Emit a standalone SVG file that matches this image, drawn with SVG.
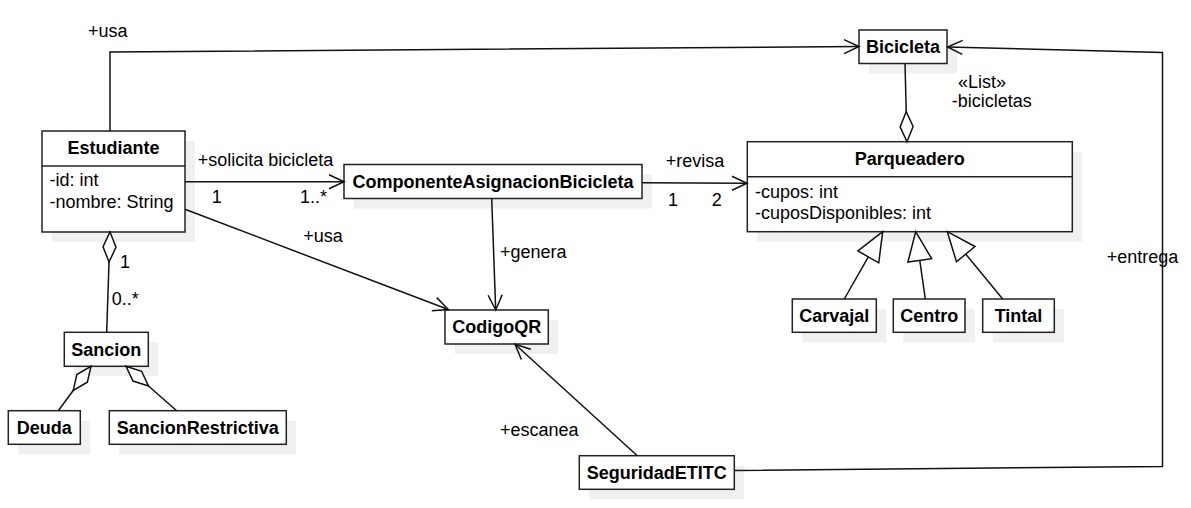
<svg xmlns="http://www.w3.org/2000/svg" width="1191" height="508" viewBox="0 0 1191 508">
<style>
.box{fill:#fff;stroke:#222;stroke-width:1.5}
.sh{fill:#f0f0f0;stroke:none}
.t{font-family:"Liberation Sans",Arial,sans-serif;font-size:18px;fill:#000}
.b{font-weight:bold;text-anchor:middle}
.ln{fill:none;stroke:#111;stroke-width:1.5}
</style>
<defs>
<marker id="open" markerUnits="userSpaceOnUse" markerWidth="40" markerHeight="40" refX="0" refY="0" orient="auto" viewBox="-20 -20 40 40" overflow="visible">
<path d="M-15,-7 L0,0 L-15,7" fill="none" stroke="#111" stroke-width="1.5"/>
</marker>
<marker id="dia" markerUnits="userSpaceOnUse" markerWidth="40" markerHeight="40" refX="0" refY="0" orient="auto" viewBox="-5 -20 40 40" overflow="visible">
<path d="M0,0 L15,-6.5 L30,0 L15,6.5 Z" fill="#fff" stroke="#111" stroke-width="1.5"/>
</marker>
<marker id="tri" markerUnits="userSpaceOnUse" markerWidth="40" markerHeight="40" refX="0" refY="0" orient="auto" viewBox="-35 -20 40 40" overflow="visible">
<path d="M0,0 L-29,-12 L-29,12 Z" fill="#fff" stroke="#111" stroke-width="1.5"/>
</marker>
</defs>

<g id="Estudiante">
<rect class="sh" x="52" y="141" width="143" height="101"/>
<rect class="box" x="42" y="131" width="143" height="101"/>
<line x1="42" y1="166" x2="185" y2="166" stroke="#222" stroke-width="1.5"/>
<text class="t b" x="113.5" y="154">Estudiante</text>
<text class="t" x="49.5" y="186">-id: int</text>
<text class="t" x="49.5" y="207.5">-nombre: String</text>
</g>

<g id="Bicicleta">
<rect class="sh" x="869" y="40" width="88" height="33.5"/>
<rect class="box" x="859" y="30" width="88" height="33.5"/>
<text class="t b" x="903" y="53.3">Bicicleta</text>
</g>

<g id="Parqueadero">
<rect class="sh" x="757.3" y="151.7" width="325" height="90"/>
<rect class="box" x="747.3" y="141.7" width="325" height="90"/>
<line x1="747.3" y1="176.7" x2="1072.3" y2="176.7" stroke="#222" stroke-width="1.5"/>
<text class="t b" x="909.8" y="165">Parqueadero</text>
<text class="t" x="755" y="198.3">-cupos: int</text>
<text class="t" x="755" y="219">-cuposDisponibles: int</text>
</g>

<g id="ComponenteAsignacionBicicleta">
<rect class="sh" x="354" y="174.5" width="298" height="34"/>
<rect class="box" x="344" y="164.5" width="298" height="34"/>
<text class="t b" x="493" y="188">ComponenteAsignacionBicicleta</text>
</g>

<g id="CodigoQR">
<rect class="sh" x="455" y="320" width="103.3" height="34"/>
<rect class="box" x="445" y="310" width="103.3" height="34"/>
<text class="t b" x="496.7" y="333.3">CodigoQR</text>
</g>

<g id="SeguridadETITC">
<rect class="sh" x="589.3" y="465.7" width="155" height="33.6"/>
<rect class="box" x="579.3" y="455.7" width="155" height="33.6"/>
<text class="t b" x="656.8" y="478.5">SeguridadETITC</text>
</g>

<g id="Sancion">
<rect class="sh" x="74.3" y="342.3" width="84" height="34"/>
<rect class="box" x="64.3" y="332.3" width="84" height="34"/>
<text class="t b" x="106.3" y="356">Sancion</text>
</g>

<g id="Deuda">
<rect class="sh" x="18.3" y="420.7" width="72" height="33.6"/>
<rect class="box" x="8.3" y="410.7" width="72" height="33.6"/>
<text class="t b" x="44.3" y="434">Deuda</text>
</g>

<g id="SancionRestrictiva">
<rect class="sh" x="119.3" y="420.7" width="177" height="33.6"/>
<rect class="box" x="109.3" y="410.7" width="177" height="33.6"/>
<text class="t b" x="197.8" y="434">SancionRestrictiva</text>
</g>

<g id="Carvajal">
<rect class="sh" x="802.3" y="309" width="84" height="33.3"/>
<rect class="box" x="792.3" y="299" width="84" height="33.3"/>
<text class="t b" x="834.3" y="322">Carvajal</text>
</g>

<g id="Centro">
<rect class="sh" x="903.3" y="309" width="71.7" height="33.3"/>
<rect class="box" x="893.3" y="299" width="71.7" height="33.3"/>
<text class="t b" x="929.2" y="322">Centro</text>
</g>

<g id="Tintal">
<rect class="sh" x="992.7" y="309" width="71.6" height="33.3"/>
<rect class="box" x="982.7" y="299" width="71.6" height="33.3"/>
<text class="t b" x="1018.5" y="322">Tintal</text>
</g>

<g id="connectors">
<path class="ln" d="M110,131 L110,52 L859,46.5" marker-end="url(#open)"/>
<path class="ln" d="M734.5,470.5 L1162.5,466.5 L1162.5,52.5 L947.5,47" marker-end="url(#open)"/>
<path class="ln" d="M907,141.7 L905,63.5" marker-start="url(#dia)"/>
<path class="ln" d="M185,181.7 L344,181.7" marker-end="url(#open)"/>
<path class="ln" d="M642,182.7 L747,183.3" marker-end="url(#open)"/>
<path class="ln" d="M491.7,198.5 L495.7,310" marker-end="url(#open)"/>
<path class="ln" d="M185,209.3 L448.3,309.5" marker-end="url(#open)"/>
<path class="ln" d="M637.3,455.7 L515,344.3" marker-end="url(#open)"/>
<path class="ln" d="M110,232 L106.7,332.3" marker-start="url(#dia)"/>
<path class="ln" d="M91,366.3 L58.3,410.7" marker-start="url(#dia)"/>
<path class="ln" d="M126,366.3 L176.7,410.7" marker-start="url(#dia)"/>
<path class="ln" d="M844.3,299 L882.7,231.7" marker-end="url(#tri)"/>
<path class="ln" d="M925.3,299 L915.7,231.7" marker-end="url(#tri)"/>
<path class="ln" d="M1002.7,299 L947.3,231.7" marker-end="url(#tri)"/>
<text class="t" x="88" y="37">+usa</text>
<text class="t" x="197.7" y="165.5">+solicita bicicleta</text>
<text class="t" x="211.7" y="203">1</text>
<text class="t" x="300" y="203">1..*</text>
<text class="t" x="303.3" y="242">+usa</text>
<text class="t" x="665.7" y="166.7">+revisa</text>
<text class="t" x="668" y="205.5">1</text>
<text class="t" x="711.7" y="205.5">2</text>
<text class="t" x="500" y="257.5">+genera</text>
<text class="t" x="958" y="88.3">«List»</text>
<text class="t" x="951.7" y="106.7">-bicicletas</text>
<text class="t" x="1106.7" y="263.3">+entrega</text>
<text class="t" x="120" y="268.3">1</text>
<text class="t" x="111.7" y="305">0..*</text>
<text class="t" x="500" y="436">+escanea</text>
</g>
</svg>
